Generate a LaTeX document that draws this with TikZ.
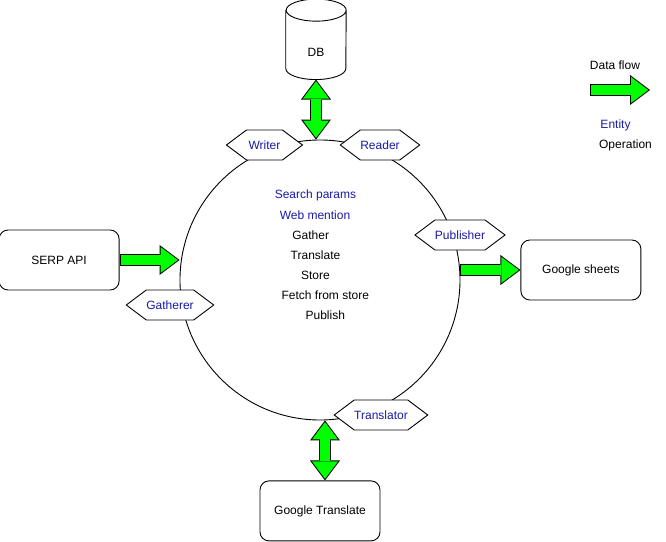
\documentclass[tikz,border=0pt]{standalone}
\usepackage{fontspec}
\setmainfont{Liberation Sans}
\usetikzlibrary{arrows.meta,positioning,shapes.symbols}
\definecolor{entblue}{HTML}{1A1AA6}
\definecolor{flowgreen}{HTML}{00FF00}

\begin{document}
\begin{tikzpicture}[font=\fontsize{12}{14}\selectfont,box/.style={rectangle,draw,line width=0.9pt,align=center,minimum width=120pt,minimum height=60pt,inner sep=0pt,rounded corners=9pt},entity/.style={signal,signal to=west and east,signal pointer angle=73.74,draw,line width=0.9pt,fill=white,text=entblue,minimum width=76pt,minimum height=30pt,inner sep=0pt},flowtip/.tip={Triangle[length=20pt,width=30pt,line width=0pt]},coretip/.tip={Triangle[length=17.3pt,width=26pt,line width=0pt]},links/.style={draw=black,line width=12pt,-{flowtip},postaction={draw=flowgreen,line width=10pt,shorten <=1pt,shorten >=1.7pt,-{coretip}}},dlinks/.style={draw=black,line width=12pt,{flowtip}-{flowtip},postaction={draw=flowgreen,line width=10pt,shorten <=1.7pt,shorten >=1.7pt,{coretip}-{coretip}}}]

	\node[circle,draw,line width=0.9pt,minimum size=280pt,inner sep=0pt] (hub) {};
	\useasboundingbox ([shift={(-320pt,-261pt)}]hub.center) rectangle ([shift={(346pt,280pt)}]hub.center);

	\node[box, left = 60pt of hub, yshift=20pt] (serp) {SERP API};
	\node[box, right = 60pt of hub, yshift=10pt] (gsheets) {Google sheets};
	\node[box, below = 60pt of hub] (gtranslate) {Google Translate};

	\node[minimum width=60pt, minimum height=80pt, inner sep=0pt, above = 60pt of hub, xshift=-4pt] (db) {};
	\draw[line width=0.9pt, fill=white] ([yshift=-11pt]db.north west) -- ([yshift=11pt]db.south west) arc[start angle=180, end angle=360, x radius=30pt, y radius=11pt] -- ([yshift=-11pt]db.north east) arc[start angle=0, end angle=180, x radius=30pt, y radius=11pt] arc[start angle=180, end angle=360, x radius=30pt, y radius=11pt];
	\node (db-label) at ([yshift=-53pt]db.north) {DB};

	\draw[links] (serp.east) -- (serp.east -| hub.west);
	\draw[links] (gsheets.west -| hub.east) -- (gsheets.west);
	\draw[dlinks] (db.south) -- (db.south |- hub.north);
	\draw[dlinks] ([xshift=5pt]gtranslate.north) -- ([xshift=5pt]gtranslate.north |- hub.south);

	\node[entity] (writer) at ([shift={(-55.5pt,135pt)}]hub.center) {Writer};
	\node[entity] (reader) at ([shift={(60pt,135pt)}]hub.center) {Reader};
	\node[entity] (gatherer) at ([shift={(-150pt,-25pt)}]hub.center) {Gatherer};
	\node[entity] (publisher) at ([shift={(140pt,45pt)}]hub.center) {Publisher};
	\node[entity] (translator) at ([shift={(61pt,-135pt)}]hub.center) {Translator};

	\node[text=entblue] (search-params) at ([shift={(-4.5pt,85pt)}]hub.center) {Search params};
	\node[text=entblue] (web-mention) at ([shift={(-5pt,65pt)}]hub.center) {Web mention};
	\node (op-gather) at ([shift={(-9.3pt,45pt)}]hub.center) {Gather};
	\node (op-translate) at ([shift={(-4.5pt,25pt)}]hub.center) {Translate};
	\node (op-store) at ([shift={(-4.5pt,5pt)}]hub.center) {Store};
	\node (op-fetch) at ([shift={(5.3pt,-15pt)}]hub.center) {Fetch from store};
	\node (op-publish) at ([shift={(5.3pt,-35pt)}]hub.center) {Publish};

	\node (legend-flow) at ([shift={(295pt,215pt)}]hub.center) {Data flow};
	\coordinate (legend-tail) at ([shift={(270pt,190pt)}]hub.center);
	\coordinate (legend-tip) at ([shift={(330pt,190pt)}]hub.center);
	\draw[links] (legend-tail) -- (legend-tip);
	\node[text=entblue] (legend-entity) at ([shift={(295.5pt,155pt)}]hub.center) {Entity};
	\node (legend-operation) at ([shift={(305.5pt,135pt)}]hub.center) {Operation};

\end{tikzpicture}
\end{document}
